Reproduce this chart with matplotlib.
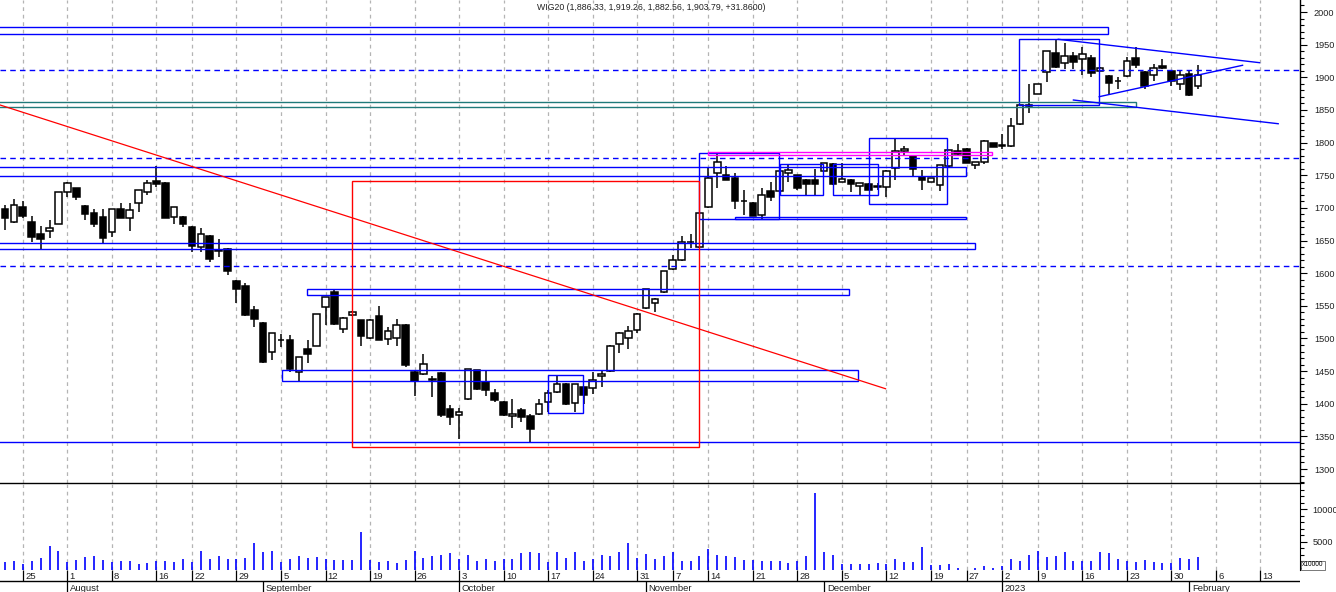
import matplotlib
matplotlib.use("Agg")
import matplotlib.pyplot as plt
from matplotlib.patches import Rectangle
from matplotlib.ticker import MultipleLocator, FixedLocator, NullLocator

plt.rcParams['font.family'] = ['Liberation Sans', 'DejaVu Sans']

title = "WIG20 (1,886.33, 1,919.26, 1,882.56, 1,903.79, +31.8600)"

# sesje od 21 lipca 2022 do 2 lutego 2023
opens = [1698, 1679, 1701, 1678, 1660, 1664, 1676, 1725, 1730, 1703,
         1692, 1686, 1663, 1698, 1685, 1707, 1724, 1741, 1738, 1686,
         1686, 1671, 1640, 1657, 1634, 1637, 1588, 1580, 1543, 1524,
         1479, 1497, 1498, 1448, 1484, 1489, 1548, 1571, 1514, 1536,
         1528, 1500, 1534, 1499, 1500, 1521, 1449, 1445, 1437, 1447,
         1392, 1382, 1407, 1451, 1434, 1416, 1403, 1381, 1390, 1381,
         1385, 1402, 1418, 1431, 1401, 1425, 1424, 1442, 1450, 1491,
         1500, 1513, 1546, 1555, 1571, 1607, 1620, 1647, 1640, 1701,
         1753, 1750, 1745, 1710, 1708, 1689, 1726, 1726, 1754, 1750,
         1743, 1743, 1757, 1767, 1740, 1743, 1733, 1737, 1732, 1732,
         1761, 1787, 1780, 1747, 1740, 1735, 1764, 1787, 1790, 1766,
         1771, 1799, 1796, 1795, 1828, 1856, 1875, 1908, 1937, 1922,
         1932, 1928, 1929, 1910, 1902, 1895, 1902, 1929, 1908, 1903,
         1917, 1910, 1890, 1905, 1886.33]
highs = [1704, 1713, 1710, 1687, 1672, 1681, 1725, 1739, 1731, 1704,
         1698, 1698, 1698, 1707, 1707, 1728, 1743, 1764, 1739, 1702,
         1687, 1672, 1669, 1658, 1652, 1638, 1589, 1585, 1550, 1525,
         1509, 1507, 1506, 1472, 1497, 1538, 1564, 1574, 1533, 1542,
         1529, 1530, 1550, 1517, 1530, 1522, 1450, 1476, 1443, 1448,
         1398, 1393, 1453, 1452, 1451, 1422, 1404, 1407, 1393, 1384,
         1408, 1421, 1443, 1432, 1431, 1426, 1449, 1451, 1490, 1510,
         1519, 1539, 1576, 1562, 1604, 1628, 1657, 1660, 1692, 1762,
         1786, 1764, 1753, 1727, 1709, 1730, 1740, 1757, 1766, 1751,
         1744, 1759, 1769, 1768, 1768, 1744, 1738, 1738, 1738, 1758,
         1806, 1795, 1781, 1758, 1746, 1766, 1789, 1798, 1791, 1771,
         1804, 1800, 1813, 1837, 1858, 1890, 1890, 1941, 1957, 1952,
         1939, 1946, 1934, 1916, 1903, 1901, 1931, 1947, 1909, 1921,
         1928, 1911, 1909, 1911, 1919.26]
lows = [1666, 1677, 1684, 1648, 1637, 1654, 1675, 1717, 1712, 1681,
        1670, 1646, 1656, 1684, 1664, 1693, 1719, 1732, 1684, 1676,
        1671, 1633, 1633, 1617, 1625, 1597, 1555, 1534, 1517, 1463,
        1467, 1487, 1448, 1435, 1463, 1488, 1521, 1521, 1509, 1535,
        1489, 1499, 1497, 1490, 1488, 1456, 1412, 1444, 1411, 1380,
        1367, 1346, 1406, 1421, 1412, 1402, 1381, 1363, 1372, 1341,
        1383, 1388, 1417, 1398, 1387, 1400, 1415, 1425, 1448, 1478,
        1484, 1509, 1545, 1541, 1570, 1605, 1619, 1638, 1639, 1700,
        1730, 1742, 1699, 1689, 1687, 1683, 1710, 1725, 1739, 1728,
        1720, 1720, 1756, 1735, 1739, 1725, 1720, 1727, 1727, 1716,
        1743, 1781, 1748, 1727, 1739, 1726, 1763, 1781, 1768, 1760,
        1767, 1793, 1790, 1794, 1827, 1846, 1874, 1893, 1915, 1912,
        1912, 1904, 1901, 1909, 1873, 1882, 1901, 1915, 1882, 1895,
        1913, 1886, 1880, 1872, 1882.56]
closes = [1685, 1704, 1688, 1656, 1653, 1669, 1724, 1738, 1716, 1690,
          1676, 1654, 1698, 1685, 1696, 1727, 1738, 1737, 1685, 1701,
          1675, 1642, 1660, 1622, 1635, 1604, 1576, 1536, 1530, 1464,
          1508, 1498, 1453, 1471, 1476, 1537, 1563, 1522, 1531, 1541,
          1503, 1529, 1498, 1511, 1521, 1460, 1435, 1461, 1438, 1382,
          1380, 1388, 1453, 1422, 1421, 1406, 1382, 1384, 1379, 1361,
          1399, 1416, 1430, 1400, 1430, 1414, 1436, 1445, 1489, 1509,
          1511, 1538, 1575, 1561, 1603, 1620, 1647, 1648, 1692, 1745,
          1771, 1743, 1710, 1711, 1688, 1719, 1716, 1756, 1758, 1730,
          1737, 1737, 1768, 1736, 1744, 1736, 1738, 1728, 1733, 1757,
          1787, 1790, 1759, 1743, 1745, 1765, 1789, 1782, 1769, 1770,
          1803, 1794, 1795, 1826, 1857, 1857, 1890, 1940, 1916, 1932,
          1924, 1936, 1906, 1915, 1892, 1894, 1925, 1919, 1887, 1914,
          1914, 1894, 1903, 1873, 1903.79]
volumes = [1870, 1970, 1515, 2020, 2475, 4395, 3535, 1870, 2120, 2625,
           2730, 2120, 1870, 1970, 1970, 1615, 1715, 1970, 1970, 1870,
           2270, 1870, 3535, 2270, 2730, 2375, 2270, 2475, 4850, 3335,
           3635, 1870, 2270, 2730, 2525, 2575, 2270, 2120, 2120, 2120,
           6515, 2120, 1870, 1970, 1715, 2120, 3535, 2475, 2730, 2880,
           3230, 2270, 2880, 1970, 2270, 1970, 2270, 2270, 3230, 3335,
           3230, 1870, 3335, 2475, 3385, 1970, 2270, 2880, 2730, 3335,
           4850, 2525, 3030, 2270, 2730, 3385, 1970, 1970, 2730, 3940,
           2880, 2730, 2575, 2120, 2120, 1970, 1970, 1970, 1715, 1970,
           2730, 12575, 3485, 2880, 1515, 1615, 1515, 1515, 1715, 1615,
           2270, 1820, 1820, 4240, 1365, 1365, 1515, 1010, 705, 1010,
           1210, 1010, 1260, 2270, 1970, 2880, 3535, 2575, 2730, 3335,
           1970, 1970, 2020, 3485, 3180, 2270, 1970, 1820, 2120, 1870,
           1715, 1770, 2425, 2270, 2575]

# pierwsza sesja tygodnia / miesiaca (numer sesji)
day_pos = [2, 7, 12, 17, 21, 26, 31, 36, 41, 46, 51, 56, 61, 66, 71,
           75, 79, 84, 89, 94, 99, 104, 108, 112, 116, 121, 126, 131, 136, 141]
day_labels = ['25', '1', '8', '16', '22', '29', '5', '12', '19', '26', '3', '10', '17', '24', '31',
              '7', '14', '21', '28', '5', '12', '19', '27', '2', '9', '16', '23', '30', '6', '13']
month_pos = [7, 29, 51, 72, 92, 112, 133]
month_labels = ['August', 'September', 'October', 'November', 'December', '2023', 'February']

# narysowane poziomy i prostokaty (sesja, cena)
dashed_levels = [1910.7, 1775.9, 1611.0]
solid_levels = [1341.0]
blue_boxes = [(-3, 123.9, 1966.3, 1977.0), (-3, 107.9, 1748.8, 1762.2),
              (-3, 108.9, 1636.6, 1645.7), (33.9, 94.8, 1566.1, 1575.3),
              (31.1, 95.8, 1434.8, 1451.7), (61.0, 64.9, 1385.4, 1444.0),
              (78.0, 86.9, 1683.0, 1783.6), (82.0, 107.9, 1682.5, 1686.5),
              (87.0, 91.9, 1719.3, 1766.7), (93.0, 98.0, 1719.3, 1766.7),
              (97.0, 105.8, 1705.5, 1806.6), (113.9, 122.9, 1857.1, 1958.2)]
teal_box = (-3, 127.0, 1854.0, 1862.6)
magenta_box = (79.0, 110.9, 1781.0, 1785.1)
red_box = (38.96, 77.9, 1333.7, 1741.2)
red_trend = ([-0.56, 98.9], [1857.6, 1423.0])
blue_trends = [([118.3, 140.9], [1958.2, 1922.4]),
               ([122.9, 139.0], [1870.3, 1918.4]),
               ([120.0, 143.0], [1865.2, 1828.9])]

W, H = 1336, 592
fig = plt.figure(figsize=(W / 100, H / 100), dpi=100)
fig.patch.set_facecolor('white')
right = 1300 / W
ax1 = fig.add_axes([0, (H - 483) / H, right, 483 / H])
ax2 = fig.add_axes([0, (H - 570) / H, right, 87 / H], sharex=ax1)
ax3 = fig.add_axes([0, 0, right, 22 / H], sharex=ax1)
for a in (ax1, ax2, ax3):
    a.patch.set_facecolor('none')

xlim = (-0.56, 145.45)
idx = list(range(len(closes)))
grid_kw = dict(color='#b4b4b4', ls=(0, (3, 3)), lw=0.9, zorder=0)

# --- ceny ---
for p in day_pos:
    ax1.axvline(p, **grid_kw)
    ax2.axvline(p, **grid_kw)

ax1.vlines(idx, lows, highs, color='black', lw=1.1, zorder=2)
body_lo = [min(o, c) for o, c in zip(opens, closes)]
body_h = [max(abs(c - o), 0.6) for o, c in zip(opens, closes)]
colors = ['white' if c >= o else 'black' for o, c in zip(opens, closes)]
ax1.bar(idx, body_h, bottom=body_lo, width=0.74, color=colors,
        edgecolor='black', linewidth=1.1, zorder=3)

for lv in dashed_levels:
    ax1.axhline(lv, color='#0000ff', ls=(0, (4, 3)), lw=1.0, zorder=4)
for lv in solid_levels:
    ax1.axhline(lv, color='#0000ff', lw=1.0, zorder=4)


def box(ax, b, col):
    x0, x1, y0, y1 = b
    ax.add_patch(Rectangle((x0, y0), x1 - x0, y1 - y0, fill=False,
                           edgecolor=col, lw=1.0, zorder=5))


for b in blue_boxes:
    box(ax1, b, '#0000ff')
box(ax1, teal_box, '#1f7a7a')
box(ax1, magenta_box, '#ff00ff')
box(ax1, red_box, '#ff0000')
ax1.plot(red_trend[0], red_trend[1], color='#ff0000', lw=0.9, zorder=5)
for xs, ys in blue_trends:
    ax1.plot(xs, ys, color='#0000ff', lw=1.0, zorder=5)

ax1.set_xlim(*xlim)
ax1.set_ylim(1278.6, 2018.4)
ax1.yaxis.tick_right()
ax1.yaxis.set_major_locator(MultipleLocator(50))
ax1.yaxis.set_minor_locator(MultipleLocator(10))
ax1.xaxis.set_major_locator(NullLocator())
ax1.xaxis.set_minor_locator(NullLocator())
for s in ['left', 'top']:
    ax1.spines[s].set_visible(False)
ax1.spines['right'].set_linewidth(1.0)
ax1.spines['bottom'].set_linewidth(1.0)
ax1.spines['bottom'].set_zorder(6)
ax1.tick_params(axis='y', which='major', length=5, width=0.8, pad=5,
                labelsize=6.6, colors='black', labelcolor='#222222')
ax1.tick_params(axis='y', which='minor', length=3, width=0.8)

# --- wolumen ---
ax2.vlines(idx, 0, volumes, color='#0000ff', lw=1.2, zorder=2)
ax2.set_ylim(633, 14057)
ax2.yaxis.tick_right()
ax2.yaxis.set_major_locator(FixedLocator([5000, 10000]))
ax2.yaxis.set_minor_locator(MultipleLocator(1000))
ax2.xaxis.set_major_locator(NullLocator())
for s in ['left', 'top', 'bottom']:
    ax2.spines[s].set_visible(False)
ax2.tick_params(axis='y', which='major', length=5, width=0.8, pad=4,
                labelsize=6.6, labelcolor='#222222')
ax2.tick_params(axis='y', which='minor', length=3, width=0.8)
fig.text(1302 / W, 1 - 565 / H, 'x10000', fontsize=4.8, va='center', ha='left',
         bbox=dict(boxstyle='square,pad=0.15', fc='white', ec='#444444', lw=0.5))

# --- os dat ---
ax3.set_ylim(0, 22)
ax3.axis('off')
ax3.axhline(11, color='black', lw=1.0)
ax3.vlines(day_pos, 11, 22, color='black', lw=0.9)
ax3.vlines(month_pos, 0, 11, color='black', lw=0.9)
for p, t in zip(day_pos, day_labels):
    ax3.text(p + 0.25, 13.2, t, fontsize=6.8, va='baseline', ha='left', color='#222222')
for p, t in zip(month_pos, month_labels):
    ax3.text(p + 0.3, 0.6, t, fontsize=6.8, va='baseline', ha='left', color='#222222')

fig.text(651 / W, 1 - 7.3 / H, title, fontsize=6.3, ha='center', va='center', color='#222222')

fig.savefig('out.png', dpi=100)
